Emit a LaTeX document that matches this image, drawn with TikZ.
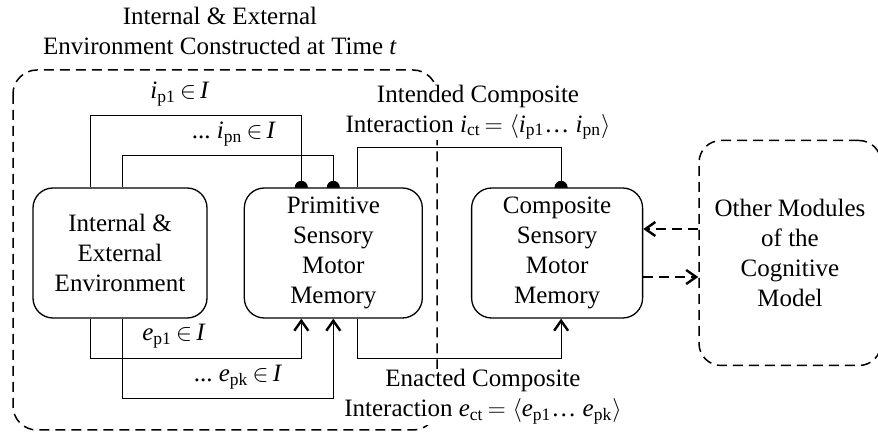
\documentclass[tikz,border=0pt]{standalone}
\usepackage{fontspec}
\setmainfont{Liberation Serif}
\usetikzlibrary{positioning,calc,arrows.meta,backgrounds}
\newcommand{\ivar}[2]{\textit{#1}\textsubscript{#2}}

\begin{document}
\begin{tikzpicture}[x=0.5pt,y=-0.5pt,
   font=\fontsize{12.5}{15}\selectfont,
   line width=0.65pt,
   mbox/.style={draw,rounded corners=10pt,fill=white,align=center,minimum width=87pt,minimum height=65pt,inner sep=2pt},
   dash5/.style={line width=0.75pt,dash pattern=on 5pt off 3pt},
   obox/.style={draw,dash5,rounded corners=11pt,align=center,minimum width=91pt,minimum height=112.5pt},
   lbl/.style={fill=white,inner sep=0.5pt,align=center},
   dotend/.style={-{Circle[length=6.5pt]},shorten >=-3.25pt},
   arrend/.style={-{Straight Barb[length=5pt,width=7pt,line width=1.2pt]}},
   node distance=18pt]
	\useasboundingbox (0,0) rectangle (878,432);
	% modules
	\node[mbox] (env) at (120,253) {Internal \&\\External\\Environment};
	\node[mbox,minimum width=89pt,right=18pt of env] (prim) {Primitive\\Sensory\\Motor\\Memory};
	\node[mbox,minimum width=85.5pt,right=24pt of prim] (comp) {Composite\\Sensory\\Motor\\Memory};
	\node[obox,right=27.5pt of comp] (other) {Other Modules\\of the\\Cognitive\\Model};
	\node[align=center] (title) at (220,31) {Internal \& External\\Environment Constructed at Time \textit{t}};
	% labels
	\node[lbl] (lip1) at (180,94) {\ivar{i}{p1}\,$\in$\,\textit{I}};
	\node[lbl] (lipn) at (234,134) {...\ \ivar{i}{pn}\,$\in$\,\textit{I}};
	\node[lbl] (lep1) at (174,336) {\ivar{e}{p1}\,$\in$\,\textit{I}};
	\node[lbl] (lepk) at (238,377) {...\ \ivar{e}{pk}\,$\in$\,\textit{I}};
	\node[lbl] (lict) at (478,112) {Intended Composite\\Interaction \ivar{i}{ct}$\,=\langle$\ivar{i}{p1}\dots\ \ivar{i}{pn}$\rangle$};
	\node[lbl] (lect) at (483,397) {Enacted Composite\\Interaction \ivar{e}{ct}$\,=\langle$\ivar{e}{p1}\dots\ \ivar{e}{pk}$\rangle$};
	\coordinate (o1) at ([yshift=12pt]other.west);
	\coordinate (c2) at ([yshift=-12pt]comp.east);
	\begin{scope}[on background layer]
	\draw[dash5,rounded corners=12pt] (13,70) rectangle (437,430);
	\draw[dotend] ([xshift=-15pt]env.north) -- ++(0,-72) -| ([xshift=-16pt]prim.north);
	\draw[dotend] ([xshift=1pt]env.north) -- ++(0,-32) -| (prim.north);
	\draw[dotend] ([xshift=12pt]prim.north) -- ++(0,-40) -| ([xshift=2pt]comp.north);
	\draw[arrend] ([xshift=-15pt]env.south) -- ++(0,40) -| ([xshift=-16pt]prim.south);
	\draw[arrend] ([xshift=1pt]env.south) -- ++(0,80) -| (prim.south);
	\draw[arrend] ([xshift=12pt]prim.south) -- ++(0,40) -| ([xshift=2pt]comp.south);
	\draw[arrend,dash5] (o1) -- (o1 -| comp.east);
	\draw[arrend,dash5] (c2) -- (c2 -| other.west);
	\end{scope}
\end{tikzpicture}
\end{document}
